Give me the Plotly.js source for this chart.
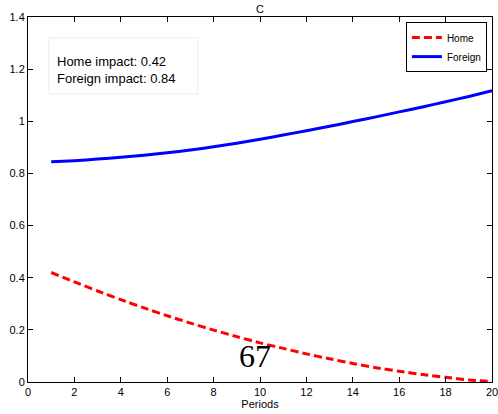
<!DOCTYPE html>
<html>
<head>
<meta charset="utf-8">
<script src="https://cdn.plot.ly/plotly-3.0.1.min.js"></script>
<style>
html, body { margin: 0; padding: 0; background: #fff; }
#chart { width: 498px; height: 414px; }
</style>
</head>
<body>
<div id="chart"></div>
<script>
var periods = [1,2,3,4,5,6,7,8,9,10,11,12,13,14,15,16,17,18,19,20];
var homeValues = [0.420,0.384,0.349,0.316,0.284,0.254,0.226,0.199,0.174,0.150,0.129,0.108,0.089,0.071,0.055,0.041,0.029,0.018,0.008,0.002];
var foreignValues = [0.845,0.849,0.855,0.862,0.870,0.879,0.890,0.902,0.916,0.931,0.947,0.964,0.981,0.999,1.017,1.036,1.055,1.075,1.095,1.117];
var seriesNames = ["Home", "Foreign"];
var xTickVals = [0,2,4,6,8,10,12,14,16,18,20];
var yTickVals = [0,0.2,0.4,0.6,0.8,1,1.2,1.4];
var yTickText = ["0","0.2","0.4","0.6","0.8","1","1.2","1.4"];
var titleText = "C";
var xTitle = "Periods";
var impactText = "Home impact: 0.42<br>Foreign impact: 0.84";
var pageNumber = "67";

var font = "Liberation Sans, Arial, Helvetica, sans-serif";

var traces = [
  {x: periods, y: homeValues, name: seriesNames[0], mode: "lines",
   line: {color: "#ff0000", width: 3, dash: "8px,4px", shape: "spline", smoothing: 0.6}},
  {x: periods, y: foreignValues, name: seriesNames[1], mode: "lines",
   line: {color: "#0000ff", width: 3, shape: "spline", smoothing: 0.6}}
];

var axisCommon = {
  showline: true, linecolor: "#000", linewidth: 1, mirror: "ticks",
  ticks: "inside", ticklen: 5, tickcolor: "#000", tickwidth: 1,
  showgrid: false, zeroline: false, ticklabeloverflow: "allow",
  tickfont: {family: font, size: 11, color: "#000"}
};

var layout = {
  width: 498, height: 414,
  margin: {l: 28, r: 6, t: 17, b: 32, pad: 0},
  paper_bgcolor: "#fff", plot_bgcolor: "#fff",
  title: {text: titleText, font: {family: font, size: 11, color: "#000"},
          x: 0.5, xref: "paper", y: 1 - 9/414, yref: "container", yanchor: "middle"},
  xaxis: Object.assign({}, axisCommon, {
    range: [0, 20], tickvals: xTickVals,
    title: {text: xTitle, font: {family: font, size: 11, color: "#000"}, standoff: 2}
  }),
  yaxis: Object.assign({}, axisCommon, {
    range: [0, 1.4], tickvals: yTickVals, ticktext: yTickText
  }),
  showlegend: true,
  legend: {x: 0.989, y: 0.986, xanchor: "right", yanchor: "top",
           bgcolor: "#fff", bordercolor: "#000", borderwidth: 1,
           font: {family: font, size: 10, color: "#000"},
           itemwidth: 30, tracegroupgap: 0},
  shapes: [
    {type: "rect", xref: "paper", yref: "paper",
     x0: 0.045, x1: 0.366, y0: 0.789, y1: 0.9425,
     line: {color: "#ececec", width: 1}, fillcolor: "rgba(0,0,0,0)"}
  ],
  annotations: [
    {xref: "paper", yref: "paper", x: 0.058, y: 0.855, xanchor: "left", yanchor: "middle",
     text: impactText, showarrow: false, align: "left",
     font: {family: font, size: 13, color: "#000"}},
    {xref: "paper", yref: "paper", x: (254.5-28)/464, y: (382.3-356)/365.3, xanchor: "center", yanchor: "middle",
     text: pageNumber, showarrow: false,
     font: {family: "Liberation Serif, DejaVu Serif, serif", size: 32, color: "#000"}}
  ]
};

Plotly.newPlot("chart", traces, layout, {staticPlot: true, displayModeBar: false});
</script>
</body>
</html>
